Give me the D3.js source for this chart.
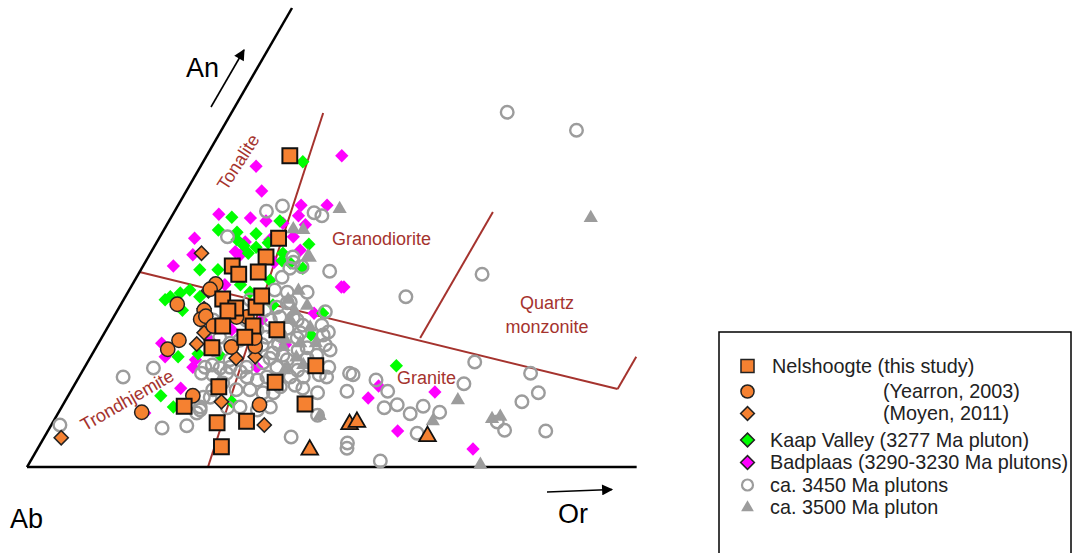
<!DOCTYPE html>
<html>
<head>
<meta charset="utf-8">
<script src="https://cdn.jsdelivr.net/npm/d3@7"></script>
<style>
  body { margin: 0; background: #fff; }
  svg { display: block; font-family: "Liberation Sans", Arial, sans-serif; }
</style>
</head>
<body>
<div id="chart"></div>
<script>
const width = 1076;
const height = 553;

// compositions as [An %, Or %] (Ab is the rest)
const nelshoogteSquares = [
    [41.5, 9.6], [30.5, 13.8], [28, 13.6], [26.8, 10.3], [25.7, 11.6], [26, 13.7],
    [22.4, 11.4], [21.2, 13.5], [20.8, 12.8], [21.3, 15.8], [22.8, 15.7], [18.8, 13.2],
    [18.8, 16.7], [18.3, 19.7], [17.3, 16.5], [15.9, 13.4], [13.5, 26.6], [11.3, 23],
    [10.7, 16.8], [8.1, 14.1], [8.4, 27.9], [6.1, 22.3], [5.9, 19], [2.7, 21.1]
];
const nelshoogteTriangles = [[2.3, 31.5], [5.7, 34.4], [6, 35.1], [4.1, 44.2]];
const yearronCircles = [
    [24.4, 9.6], [23.7, 9.3], [21.7, 6.5], [20.9, 10], [19.7, 10.2], [20.1, 10.6],
    [18.8, 12.1], [16.9, 9.1], [15.7, 8.4], [16, 15.6], [16.1, 18.3], [17.2, 17.7],
    [9.5, 14.4], [7.3, 9.6], [8.3, 22.7], [20, 15.4], [20, 14.2]
];
const moyenDiamonds = [
    [28.5, 5.9], [23.5, 9.2], [21.1, 9.9], [17.9, 11.5], [16.4, 11.4], [14.5, 16.9],
    [14.7, 19], [8.7, 18.1], [5.6, 24.6], [3.9, 2]
];
const kaapValley = [
    [40.7, 11.5], [33.3, 7], [31.6, 6.3], [31.3, 8.6], [31.1, 10.9], [32.8, 12.8],
    [29.7, 17.7], [29.5, 10.3], [29.3, 11.8], [29.9, 12.9], [28.5, 15.3], [30.3, 9.1],
    [28.5, 11.3], [26.3, 6.8], [26.3, 8.9], [23.6, 7], [22.7, 8.6], [22.7, 5.2],
    [23.2, 6.1], [20.9, 7.5], [22, 6.4], [15.1, 12.2], [14.7, 10.1], [27.2, 16.8],
    [27.5, 15.7], [21.6, 17.6], [17.6, 24], [9.5, 10.7], [8, 12.9], [8.7, 19.3],
    [13.5, 35.9], [26.5, 18.6], [22.3, 4.8], [24.3, 12.5], [23.3, 14.1], [24.9, 15.6],
    [14.9, 14.8], [20.5, 23.9]
];
const badplaas = [
    [41.5, 15.6], [40.1, 6.4], [36.8, 8.7], [33.7, 5.3], [33.2, 9.2], [32.8, 11.2],
    [34.9, 14.2], [34.9, 17.2], [33.5, 14.6], [32.5, 13.3], [32.3, 16], [30.5, 4.1],
    [28.3, 5], [26.8, 3.5], [28.9, 17.1], [28.7, 9.7], [30, 10.2], [30.3, 12.9],
    [30.7, 15.4], [27.3, 14.9], [28.3, 10.5], [24, 24.3], [24, 24.6], [20.5, 22.9],
    [16.5, 7.3], [14.7, 8.6], [13.3, 12.5], [10.5, 12.5], [7.2, 10], [9.2, 34.8],
    [10.8, 35.2], [10, 42.1], [4.8, 40.4], [2.4, 50.3], [13.3, 19.9], [24.3, 10.7],
    [18.3, 14.5], [19.6, 17.3], [16.3, 21.7], [16.9, 12.7], [14.3, 12.3]
];
const plutons3450 = [
    [34.1, 10.6], [34.8, 12.1], [33.9, 16.2], [33.5, 17.3], [30.7, 7.8], [26.1, 21.9],
    [47.3, 31.8], [44.9, 41], [25.7, 39.7], [22.7, 32.4], [14, 44.7], [12.5, 51.9],
    [28, 16.7], [27.3, 17.1], [26.5, 17.1], [26.7, 18.4], [12.5, 31], [12.3, 31.5],
    [11.6, 34.5], [10.1, 36.6], [10.1, 31.9], [7.9, 37.3], [8.3, 38.6], [7.1, 40.7],
    [8.1, 41.7], [7.3, 44], [4.5, 42.8], [11.1, 44.9], [9.9, 54.1], [8.7, 52.8],
    [4.9, 52.7], [4.8, 57.5], [6, 51.3], [0.8, 40.4], [3.2, 35.4], [2.5, 35.7],
    [12.9, 24.8], [13.3, 28.2], [12.3, 27.6], [10.9, 25.5], [9.9, 23.5], [4, 28.5],
    [6.9, 30.1], [12, 5.1], [13.2, 8], [5.6, 1], [5.2, 13], [5.5, 15.7],
    [7.6, 16.2], [7.2, 16], [23.3, 18.4], [23.3, 20.7], [22, 19.4], [20.7, 24.1],
    [17.6, 25.4], [16.3, 26.3], [14.9, 26], [14.5, 25.1], [17.2, 22.6], [18.9, 22.4],
    [18.5, 20.8], [19.9, 20.8], [16.3, 20.9], [14.9, 22.1], [14.5, 20.8], [15.9, 24.4],
    [15.6, 23.5], [18.9, 24.6], [18, 25.8], [13.3, 13.9], [13.6, 14.6], [13.2, 15.7],
    [13.3, 16.8], [12.7, 18.3], [12.3, 15.3], [12.5, 16.8], [12.5, 13.9], [9.3, 16.5],
    [10.3, 16.3], [7.9, 19.2], [8, 16], [19.6, 21.4], [17.9, 22.6], [15.6, 27.2],
    [14.3, 22.9], [13.3, 22.2], [12, 28.6], [12, 25.9], [12, 24.4], [10.7, 23.9],
    [10.5, 26.6], [9.9, 28.6], [12, 21.7], [11.6, 20.8], [12, 19.4], [11.2, 17],
    [10.3, 19], [10.3, 20.6], [9.9, 22.3], [8, 24.1], [7.6, 22.8], [8, 20.6],
    [9.3, 15.7], [14.3, 16.3], [13.3, 18.7], [13.9, 20.3], [15.2, 20.8], [17.3, 19],
    [18.3, 17.4], [19.6, 18.3], [20, 19.2], [21.3, 18.2], [21.9, 19.1], [19.6, 11.7],
    [18.3, 11.6], [17.3, 13.6], [16.5, 15.2], [19.6, 15.5], [15.6, 18.6], [15.6, 13.9],
    [16.9, 16.1], [16.3, 19], [17.6, 20.4], [22.3, 14.6], [20.9, 17], [25.3, 16.8],
    [23.6, 16.8]
];
const pluton3500 = [
    [34.4, 18.9], [31.7, 14.9], [28.1, 18.4], [33.2, 48.5], [12.9, 23.3], [6.8, 30.4],
    [6.1, 43.8], [8.9, 45.3], [6.4, 50.5], [6.7, 51.3], [0.3, 52.2], [16, 21.6],
    [13.6, 25.1], [19.6, 20.6], [18.3, 19.3], [22.3, 19], [13.3, 23.4], [11.6, 22.6],
    [27.9, 18.7], [31.6, 16.1], [16.5, 25.1], [23.5, 19.6], [16.5, 23.3], [20.8, 20.5],
    [17, 21.3], [14.6, 23.8], [18.6, 23.4], [21.5, 21.6]
];

// field boundaries, [An, Or] end points
const fieldLines = [
    [[26, 0], [10.4, 63]],
    [[10.4, 63], [14.7, 63]],
    [[47.2, 10.6], [0, 20.9]],
    [[34, 36.8], [17.2, 36.8]]
];
const triangleEdges = [
    [[0, 0], [0, 70.4]],
    [[0, 0], [61.2, 0]]
];

const legendLabels = [
    "Nelshoogte (this study)",
    "(Yearron, 2003)",
    "(Moyen, 2011)",
    "Kaap Valley (3277 Ma pluton)",
    "Badplaas (3290-3230 Ma plutons)",
    "ca. 3450 Ma plutons",
    "ca. 3500 Ma pluton"
];

const orange = "#f58131";
const fieldColor = "#a5332e";
const grey = "#9c9c9c";

const svg = d3.select("#chart").append("svg")
    .attr("width", width)
    .attr("height", height);

// ternary -> screen
const xScale = d3.scaleLinear().domain([0, 100]).range([27, 27 + 866]);
const yScale = d3.scaleLinear().domain([0, 50 * Math.sqrt(3)]).range([467, 467 - 750]);

function project(d) {
    const an = d[0], or = d[1];
    return [xScale(or + an / 2), yScale(an * Math.sqrt(3) / 2)];
}

const line = d3.line().x(d => project(d)[0]).y(d => project(d)[1]);

// field boundaries
svg.append("g").selectAll("path")
    .data(fieldLines)
    .enter().append("path")
    .attr("d", line)
    .attr("fill", "none")
    .attr("stroke", fieldColor)
    .attr("stroke-width", 2);

svg.append("g").selectAll("path")
    .data(triangleEdges)
    .enter().append("path")
    .attr("d", line)
    .attr("fill", "none")
    .attr("stroke", "#000")
    .attr("stroke-width", 2.5);

// field names
const fieldText = svg.append("g")
    .attr("fill", fieldColor)
    .style("font-size", "18px");

fieldText.append("text")
    .attr("transform", "translate(238,162) rotate(-57)")
    .attr("text-anchor", "middle")
    .attr("dy", "0.35em")
    .text("Tonalite");
fieldText.append("text")
    .attr("x", 332).attr("y", 239).attr("dy", "0.35em")
    .text("Granodiorite");
fieldText.append("text")
    .attr("x", 547).attr("y", 303).attr("dy", "0.35em")
    .attr("text-anchor", "middle")
    .text("Quartz");
fieldText.append("text")
    .attr("x", 547).attr("y", 327).attr("dy", "0.35em")
    .attr("text-anchor", "middle")
    .text("monzonite");
fieldText.append("text")
    .attr("x", 397).attr("y", 378).attr("dy", "0.35em")
    .text("Granite");
fieldText.append("text")
    .attr("transform", "translate(127,400) rotate(-30)")
    .attr("text-anchor", "middle")
    .attr("dy", "0.35em")
    .text("Trondhjemite");

// marker helpers
function drawSeries(data, type, size, fill, stroke, strokeWidth, rotate) {
    const sym = d3.symbol().type(type).size(size);
    svg.append("g").selectAll("path")
        .data(data)
        .enter().append("path")
        .attr("d", sym)
        .attr("transform", d => {
            const p = project(d);
            return `translate(${p[0]},${p[1]})` + (rotate ? ` rotate(${rotate})` : "");
        })
        .attr("fill", fill)
        .attr("stroke", stroke)
        .attr("stroke-width", strokeWidth);
}

drawSeries(badplaas, d3.symbolSquare, 88, "#ff00ff", "none", 0, 45);
drawSeries(kaapValley, d3.symbolSquare, 88, "#00ff00", "none", 0, 45);
drawSeries(pluton3500, d3.symbolTriangle, 88, grey, "none", 0);
drawSeries(plutons3450, d3.symbolCircle, 125, "none", grey, 2.4);
drawSeries(moyenDiamonds, d3.symbolSquare, 100, orange, "#222", 1.5, 45);
drawSeries(yearronCircles, d3.symbolCircle, 160, orange, "#222", 1.5);
drawSeries(nelshoogteSquares, d3.symbolSquare, 220, orange, "#111", 2);
drawSeries(nelshoogteTriangles, d3.symbolTriangle, 120, orange, "#111", 1.8);

// apex labels and arrows
svg.append("defs").append("marker")
    .attr("id", "head")
    .attr("viewBox", "0 0 10 10")
    .attr("refX", 9).attr("refY", 5)
    .attr("markerWidth", 13).attr("markerHeight", 11)
    .attr("markerUnits", "userSpaceOnUse")
    .attr("orient", "auto")
    .append("path")
    .attr("d", "M0,0 L10,5 L0,10 z")
    .attr("fill", "#000");

svg.append("line")
    .attr("x1", 211).attr("y1", 107).attr("x2", 244).attr("y2", 50)
    .attr("stroke", "#000").attr("stroke-width", 1.6)
    .attr("marker-end", "url(#head)");
svg.append("line")
    .attr("x1", 547).attr("y1", 492).attr("x2", 612).attr("y2", 489.5)
    .attr("stroke", "#000").attr("stroke-width", 1.6)
    .attr("marker-end", "url(#head)");

const apexText = svg.append("g").style("font-size", "27px").attr("fill", "#000");
apexText.append("text").attr("x", 186).attr("y", 77).text("An");
apexText.append("text").attr("x", 10).attr("y", 528).text("Ab");
apexText.append("text").attr("x", 558).attr("y", 523).text("Or");

// legend
const legend = svg.append("g");
legend.append("rect")
    .attr("x", 719).attr("y", 332)
    .attr("width", 352).attr("height", 240)
    .attr("fill", "#fff")
    .attr("stroke", "#000")
    .attr("stroke-width", 1.5);

const legendRows = [
    { y: 366, x: 772, type: d3.symbolSquare, size: 170, fill: orange, stroke: "#222", sw: 1.5, rot: 0 },
    { y: 391.5, x: 883, type: d3.symbolCircle, size: 135, fill: orange, stroke: "#222", sw: 1.5, rot: 0 },
    { y: 413.5, x: 883, type: d3.symbolSquare, size: 95, fill: orange, stroke: "#222", sw: 1.5, rot: 45 },
    { y: 440, x: 770, type: d3.symbolSquare, size: 95, fill: "#00ff00", stroke: "#222", sw: 1.5, rot: 45 },
    { y: 462.5, x: 770, type: d3.symbolSquare, size: 95, fill: "#ff00ff", stroke: "#222", sw: 1.5, rot: 45 },
    { y: 485, x: 770, type: d3.symbolCircle, size: 95, fill: "none", stroke: grey, sw: 2.2, rot: 0 },
    { y: 507.5, x: 770, type: d3.symbolTriangle, size: 70, fill: grey, stroke: "none", sw: 0, rot: 0 }
];

legendRows.forEach((r, i) => {
    legend.append("path")
        .attr("d", d3.symbol().type(r.type).size(r.size))
        .attr("transform", `translate(747.5,${r.y}) rotate(${r.rot})`)
        .attr("fill", r.fill)
        .attr("stroke", r.stroke)
        .attr("stroke-width", r.sw);
    legend.append("text")
        .attr("x", r.x).attr("y", r.y).attr("dy", "0.35em")
        .style("font-size", "19.8px")
        .attr("fill", "#222")
        .text(legendLabels[i]);
});
</script>
</body>
</html>
